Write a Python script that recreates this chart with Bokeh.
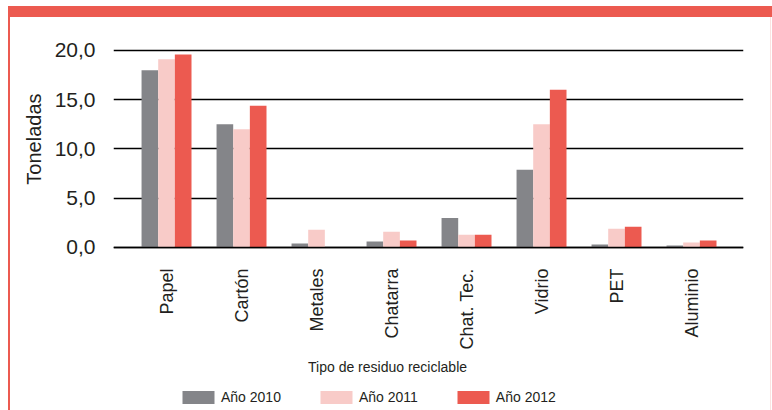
import math
from bokeh.plotting import figure
from bokeh.models import Range1d, FixedTicker, Legend, LegendItem, Title, Label
from bokeh.embed import file_html
from bokeh.resources import INLINE

categories = ["Papel", "Cartón", "Metales", "Chatarra", "Chat. Tec.", "Vidrio", "PET", "Aluminio"]
y2010 = [18.0, 12.5, 0.4, 0.6, 3.0, 7.9, 0.3, 0.2]
y2011 = [19.1, 12.0, 1.8, 1.6, 1.3, 12.5, 1.9, 0.5]
y2012 = [19.6, 14.4, 0.0, 0.7, 1.3, 16.0, 2.1, 0.7]
series_names = ["Año 2010", "Año 2011", "Año 2012"]
y_ticks = [0, 5, 10, 15, 20]
y_tick_labels = ["0,0", "5,0", "10,0", "15,0", "20,0"]
x_title = "Tipo de residuo reciclable"
y_title = "Toneladas"

GRAY = "#848589"
PINK = "#F8CBC8"
RED = "#EC5A50"
TXT = "#231F20"
FONT = "Liberation Sans"

# the frame extends below zero so that the category labels, the x title and
# the legend sit inside it; the x axis is pinned at y = 0
p = figure(frame_width=630, frame_height=363, output_backend="svg", toolbar_location=None,
           x_range=Range1d(-0.707, 7.693), y_range=Range1d(-16.545, 20.3),
           min_border_left=113, min_border_right=29, min_border_top=47, min_border_bottom=0)
p.outline_line_color = None
p.border_fill_color = None
p.background_fill_color = "white"
p.styles = {
    "background-image": f"linear-gradient({RED},{RED}), linear-gradient({RED},{RED}), linear-gradient(#FBE3E1,#FBE3E1)",
    "background-size": "764px 11px, 2px 394px, 1px 394px",
    "background-position": "8px 6px, 8px 16px, 770px 16px",
    "background-repeat": "no-repeat",
}

xs = list(range(len(categories)))
w = 0.222
renderers = []
for vals, off, col in [(y2010, -w, GRAY), (y2011, 0.0, PINK), (y2012, w, RED)]:
    r = p.vbar(x=[x + off for x in xs], top=vals, width=w, bottom=0,
               fill_color=col, line_color=None)
    renderers.append(r)

# grid
p.xgrid.grid_line_color = None
p.ygrid.ticker = FixedTicker(ticks=y_ticks)
p.ygrid.grid_line_color = "black"
p.ygrid.grid_line_width = 1.3

# y axis
ya = p.yaxis[0]
ya.ticker = FixedTicker(ticks=y_ticks)
ya.major_label_overrides = {t: l for t, l in zip(y_ticks, y_tick_labels)}
ya.axis_line_color = None
ya.major_tick_line_color = None
ya.minor_tick_line_color = None
ya.major_label_text_font = FONT
ya.major_label_text_font_size = "21px"
ya.major_label_text_color = TXT
ya.major_label_standoff = 12

yt = Title(text=y_title, align="right", offset=46, standoff=14,
           text_font=FONT, text_font_size="20px", text_font_style="normal",
           text_color=TXT)
p.add_layout(yt, "left")

# x axis
xa = p.xaxis[0]
xa.fixed_location = 0
xa.ticker = FixedTicker(ticks=xs)
xa.major_label_overrides = {i: c for i, c in zip(xs, categories)}
xa.major_label_orientation = math.pi / 2
xa.major_label_text_font = FONT
xa.major_label_text_font_size = "18px"
xa.major_label_text_color = TXT
xa.major_label_standoff = 15
xa.major_tick_line_color = None
xa.minor_tick_line_color = None
xa.axis_line_color = "black"
xa.axis_line_width = 1.3

xt = Label(x=2.947, y=-12.18, x_units="data", y_units="data",
           text=x_title, text_align="center", text_baseline="middle",
           text_font=FONT, text_font_size="14px", text_color=TXT)
p.add_layout(xt)

items = [LegendItem(label=n, renderers=[r]) for n, r in zip(series_names, renderers)]
legend = Legend(items=items,
                orientation="horizontal", location=(65, 5),
                glyph_width=40, glyph_height=16, label_height=16,
                label_standoff=3, spacing=35, padding=0, margin=0,
                border_line_color=None, background_fill_alpha=0,
                label_text_font=FONT, label_text_font_size="14px",
                label_text_color=TXT)
p.add_layout(legend)

open("out.html", "w").write(file_html(p, INLINE))
